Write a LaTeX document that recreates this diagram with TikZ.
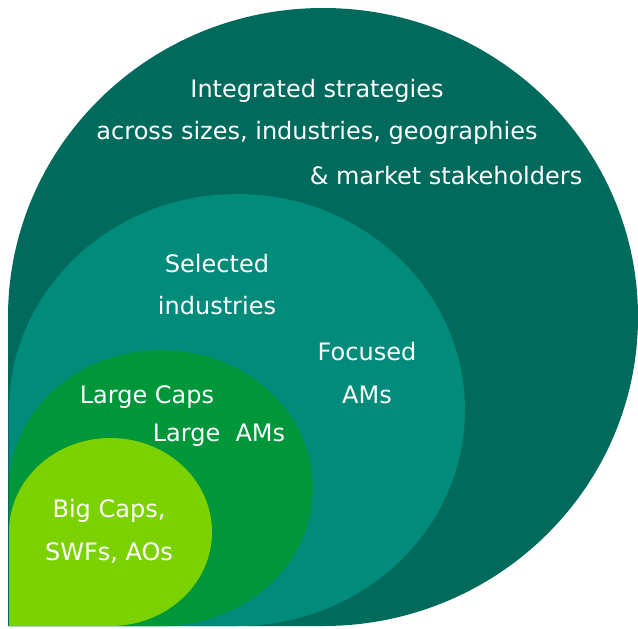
\documentclass[tikz,border=0pt]{standalone}
\usepackage{fontspec}
\setmainfont{DejaVu Sans}
\usepackage{xcolor}
\usepackage{tikz}

\definecolor{outerteal}{HTML}{006A5D}
\definecolor{midteal}{HTML}{008B7B}
\definecolor{capsgreen}{HTML}{00963A}
\definecolor{biggreen}{HTML}{7CD100}

\begin{document}
\begin{tikzpicture}[x=0.75pt, y=-0.75pt]
			\tikzstyle{every node}=[font=\fontsize{18}{22}\selectfont];
			\tikzstyle{txt}=[white, inner sep=0pt, anchor=center];
			\useasboundingbox (0, 0) rectangle (638, 628);
			
			%Integrated strategies
			\fill[outerteal] (8, 317) arc[start angle=180, end angle=450, x radius=315, y radius=309] -- (8, 626) -- cycle;
			\node[txt] (integrated) at (317, 91) {Integrated strategies};
			\node[txt] (across) at (317, 133) {across sizes, industries, geographies};
			\node[txt] (market) at (446, 176) {\& market stakeholders};
			
			%Focused AMs
			\fill[midteal] (9, 410) arc[start angle=180, end angle=450, x radius=228, y radius=216] -- (9, 626) -- cycle;
			\node[txt] (selected) at (217, 264) {Selected};
			\node[txt] (industries) at (217, 306) {industries};
			\node[txt] (focused) at (367, 352) {Focused};
			\node[txt] (focusedams) at (367, 395) {AMs};
			
			%Large Caps
			\fill[capsgreen] (9, 488) arc[start angle=180, end angle=450, x radius=152, y radius=138] -- (9, 626) -- cycle;
			\node[txt] (largecaps) at (147, 397) {Large Caps};
			\node[txt] (largeams) at (219, 435) {Large\ \ AMs};
			
			%Big Caps
			\fill[biggreen] (9, 532) arc[start angle=180, end angle=450, x radius=101.5, y radius=94] -- (9, 626) -- cycle;
			\node[txt] (bigcaps) at (109, 511) {Big Caps,};
			\node[txt] (swfs) at (109, 553) {SWFs, AOs};
\end{tikzpicture}
\end{document}
